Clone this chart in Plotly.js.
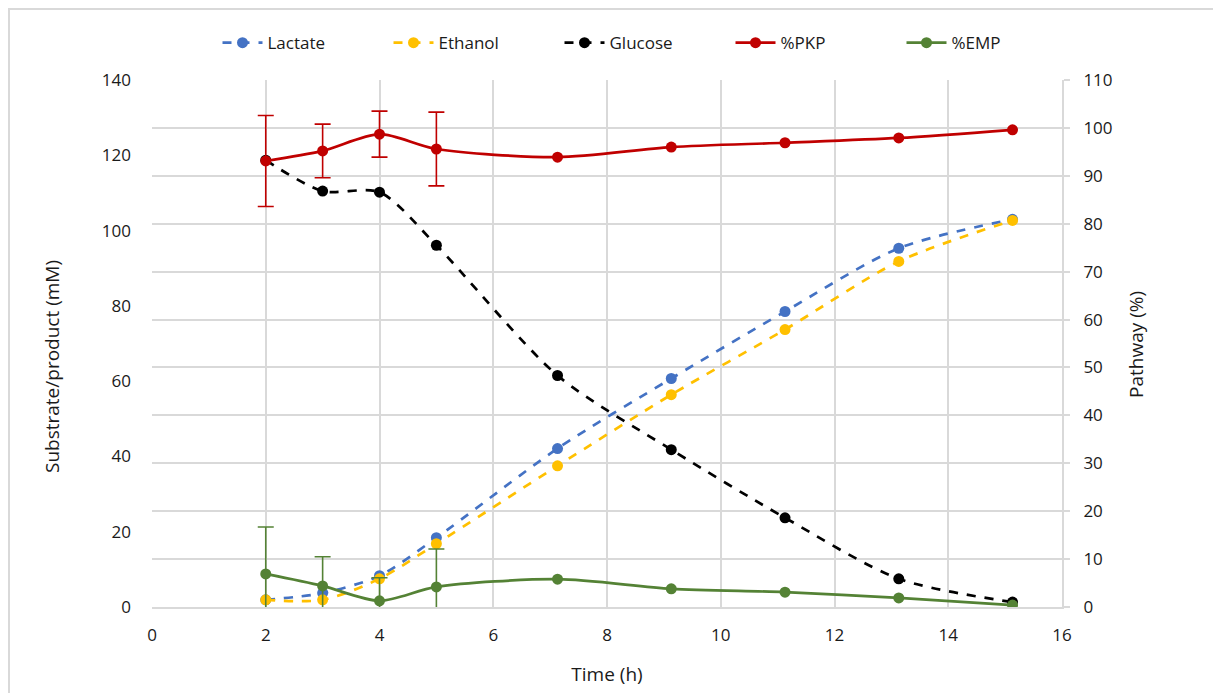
<!DOCTYPE html>
<html>
<head>
<meta charset="utf-8">
<script src="https://cdn.plot.ly/plotly-3.0.1.min.js"></script>
<style>
html,body{margin:0;padding:0;background:#fff;}
#chart{width:1213px;height:693px;}
</style>
</head>
<body>
<div id="chart"></div>
<script>
// Data
var timeH = [2, 3, 4, 5, 7.13, 9.13, 11.13, 13.13, 15.13];
var lactate = [1.9, 3.7, 8.3, 18.4, 42.1, 60.7, 78.5, 95.3, 103.0];
var ethanol = [1.9, 1.9, 7.5, 16.8, 37.5, 56.4, 73.7, 91.8, 102.7];
var glucose = [118.7, 110.5, 110.2, 96.1, 61.5, 41.8, 23.7, 7.5, 1.3];
var pkp = [93.1, 95.2, 98.7, 95.6, 93.9, 96.0, 96.9, 97.9, 99.6];
var pkpErr = [9.5, 5.6, 4.8, 7.7, NaN, NaN, NaN, NaN, NaN];
var emp = [6.9, 4.4, 1.3, 4.2, 5.8, 3.8, 3.1, 1.9, 0.4];
var empErr = [9.8, 6.1, 4.8, 7.9, NaN, NaN, NaN, NaN, NaN];
var xTicks = [0, 2, 4, 6, 8, 10, 12, 14, 16];
var leftTicks = [0, 20, 40, 60, 80, 100, 120, 140];
var rightTicks = [0, 10, 20, 30, 40, 50, 60, 70, 80, 90, 100, 110];

var FONT = '"Open Sans", "Noto Sans", sans-serif';
var TXT = '#1a1a1a';

function line(name, y, color, dash, yaxis, err) {
  var t = {
    x: timeH, y: y, name: name, type: 'scatter', mode: 'lines+markers',
    yaxis: yaxis,
    line: {color: color, width: 2.7, dash: dash, shape: 'spline', smoothing: 0.8},
    marker: {color: color, size: 11, symbol: 'circle'}
  };
  if (err) {
    t.error_y = {type: 'data', array: err, visible: true, color: color, thickness: 1.6, width: 8};
  }
  return t;
}

var data = [
  line('Lactate', lactate, '#4472C4', 'dash', 'y', null),
  line('Ethanol', ethanol, '#FFC000', 'dash', 'y', null),
  line('Glucose', glucose, '#000000', 'dash', 'y', null),
  line('%PKP', pkp, '#C00000', 'solid', 'y2', pkpErr),
  line('%EMP', emp, '#548235', 'solid', 'y2', empErr)
];

var layout = {
  width: 1213, height: 693,
  margin: {l: 152, r: 151, t: 80, b: 86},
  paper_bgcolor: '#ffffff', plot_bgcolor: '#ffffff',
  font: {family: FONT, size: 17, color: TXT},
  showlegend: true,
  legend: {orientation: 'h', x: 0.5 + 38/910, xanchor: 'center', y: 1.07, yanchor: 'middle',
           font: {family: FONT, size: 17, color: TXT}, itemwidth: 40, tracegroupgap: 0,
           entrywidth: 116},
  xaxis: {
    range: [0, 16], tickvals: xTicks, ticktext: xTicks.map(String),
    showgrid: true, gridcolor: '#d9d9d9', gridwidth: 2,
    showline: true, linecolor: '#d9d9d9', linewidth: 2,
    zeroline: false, ticks: '', ticklabelstandoff: 12,
    tickfont: {family: FONT, size: 17, color: TXT},
    title: {text: 'Time (h)', font: {family: FONT, size: 19, color: TXT}, standoff: 22}
  },
  yaxis: {
    range: [0, 140], tickvals: leftTicks, ticktext: leftTicks.map(String),
    showgrid: false, zeroline: false, showline: false, ticks: '',
    ticklabelstandoff: 20,
    tickfont: {family: FONT, size: 17, color: TXT}
  },
  yaxis2: {
    range: [0, 110], tickvals: rightTicks, ticktext: rightTicks.map(String),
    overlaying: 'y', side: 'right',
    showgrid: true, gridcolor: '#d9d9d9', gridwidth: 2,
    zeroline: false, showline: true, linecolor: '#d9d9d9', linewidth: 2,
    ticks: 'outside', ticklen: 6, tickcolor: '#d9d9d9', tickwidth: 2,
    ticklabelstandoff: 10,
    tickfont: {family: FONT, size: 17, color: TXT}
  },
  annotations: [
    {text: 'Substrate/product (mM)', xref: 'paper', yref: 'paper',
     x: -100/910, y: (607-367)/527, xanchor: 'center', yanchor: 'middle',
     textangle: -90, showarrow: false, font: {family: FONT, size: 19, color: TXT}},
    {text: 'Pathway (%)', xref: 'paper', yref: 'paper',
     x: 1 + 74/910, y: (607-345)/527, xanchor: 'center', yanchor: 'middle',
     textangle: -90, showarrow: false, font: {family: FONT, size: 19, color: TXT}}
  ],
  shapes: [
    {type: 'rect', xref: 'paper', yref: 'paper',
     x0: -143/910, x1: 1 + 200/910, y0: -200/527, y1: 1 + 71/527,
     line: {color: '#d9d9d9', width: 2}, fillcolor: 'rgba(0,0,0,0)', layer: 'below'}
  ]
};

Plotly.newPlot('chart', data, layout, {displayModeBar: false, staticPlot: true});
</script>
</body>
</html>
